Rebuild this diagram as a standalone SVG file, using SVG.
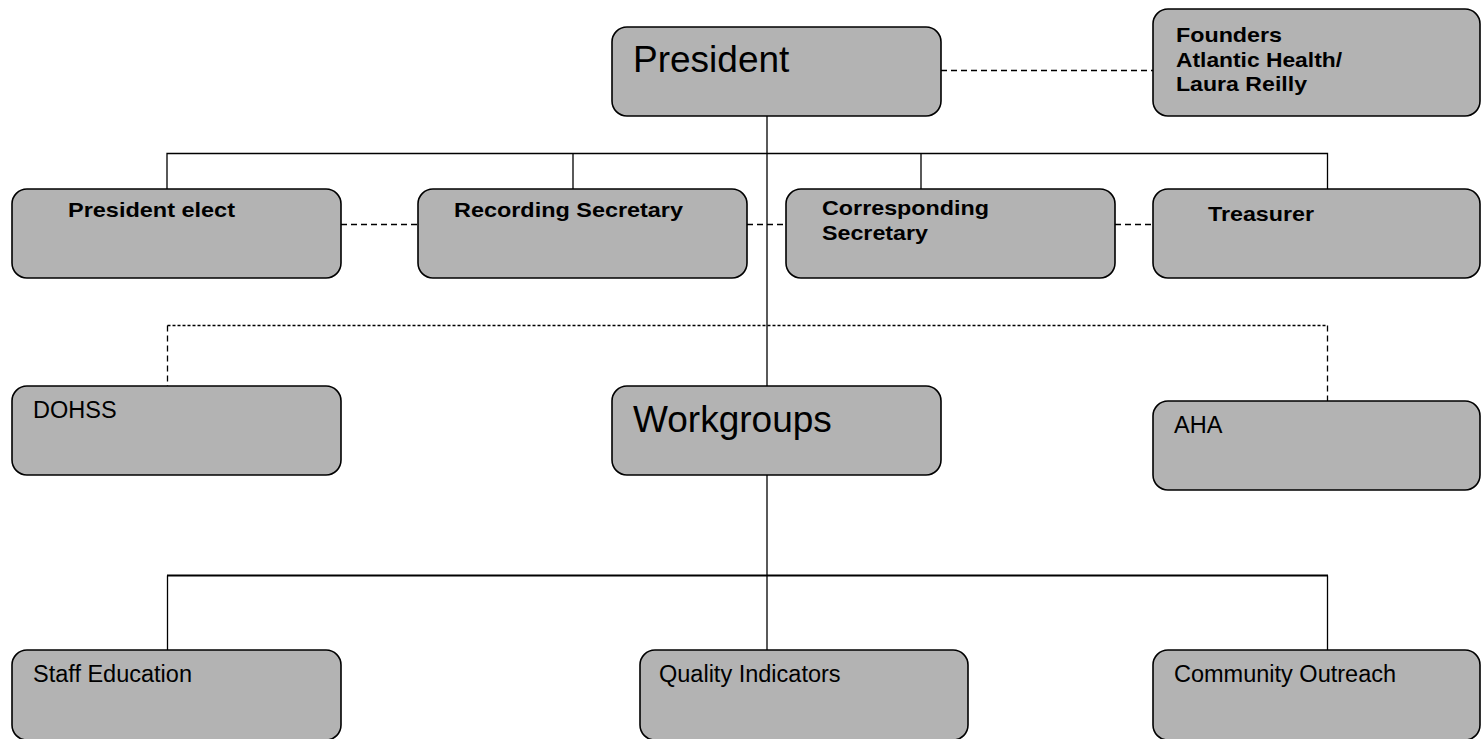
<svg xmlns="http://www.w3.org/2000/svg" width="1481" height="739" viewBox="0 0 1481 739">
<style>
.box{fill:#b3b3b3;stroke:#000;stroke-width:1.6}
.ln{fill:none;stroke:#000;stroke-width:1.3}
.dsh{fill:none;stroke:#000;stroke-width:1.3;stroke-dasharray:6 4}
.dot{fill:none;stroke:#000;stroke-width:1.6;stroke-dasharray:3 2}
.t{font-family:"Liberation Sans",Arial,sans-serif;fill:#000}
.big{font-size:37px}
.reg{font-size:23.5px}
.b{font-size:21px;font-weight:bold}
</style>
<rect width="1481" height="739" fill="#fff"/>
<g id="connectors">
<line class="dsh" x1="941" y1="70.5" x2="1153" y2="70.5"/>
<line class="ln" x1="767" y1="116" x2="767" y2="386"/>
<polyline class="ln" points="167,189 167,153.5 1327.5,153.5 1327.5,189"/>
<line class="ln" x1="573" y1="153.5" x2="573" y2="189"/>
<line class="ln" x1="921" y1="153.5" x2="921" y2="189"/>
<line class="dsh" x1="341" y1="224.5" x2="418" y2="224.5"/>
<line class="dsh" x1="747" y1="224.5" x2="786" y2="224.5"/>
<line class="dsh" x1="1115" y1="224.5" x2="1153" y2="224.5"/>
<line class="dot" x1="167.5" y1="325.5" x2="1327.5" y2="325.5"/>
<line class="dsh" x1="167.5" y1="325.5" x2="167.5" y2="386"/>
<line class="dsh" x1="1327.5" y1="325.5" x2="1327.5" y2="401"/>
<line class="ln" x1="767" y1="475" x2="767" y2="650"/>
<line class="ln" style="stroke-width:2.2" x1="167" y1="575.5" x2="1328" y2="575.5"/>
<line class="ln" x1="167.5" y1="575.5" x2="167.5" y2="650"/>
<line class="ln" x1="1327.5" y1="575.5" x2="1327.5" y2="650"/>
</g>
<g id="president"><rect class="box" x="612" y="27" width="329" height="89" rx="15"/><text class="t big" x="633" y="72">President</text></g>
<g id="founders"><rect class="box" x="1153" y="9" width="327" height="107" rx="15"/><text class="t b" x="1176" y="42" textLength="106" lengthAdjust="spacingAndGlyphs">Founders</text><text class="t b" x="1176" y="66.5" textLength="166" lengthAdjust="spacingAndGlyphs">Atlantic Health/</text><text class="t b" x="1176" y="91" textLength="131" lengthAdjust="spacingAndGlyphs">Laura Reilly</text></g>
<g id="president-elect"><rect class="box" x="12" y="189" width="329" height="89" rx="15"/><text class="t b" x="68" y="216.5" textLength="167" lengthAdjust="spacingAndGlyphs">President elect</text></g>
<g id="recording-secretary"><rect class="box" x="418" y="189" width="329" height="89" rx="15"/><text class="t b" x="454" y="216.5" textLength="229" lengthAdjust="spacingAndGlyphs">Recording Secretary</text></g>
<g id="corresponding-secretary"><rect class="box" x="786" y="189" width="329" height="89" rx="15"/><text class="t b" x="822" y="215" textLength="167" lengthAdjust="spacingAndGlyphs">Corresponding</text><text class="t b" x="822" y="240" textLength="106" lengthAdjust="spacingAndGlyphs">Secretary</text></g>
<g id="treasurer"><rect class="box" x="1153" y="189" width="327" height="89" rx="15"/><text class="t b" x="1208" y="220.5" textLength="106" lengthAdjust="spacingAndGlyphs">Treasurer</text></g>
<g id="dohss"><rect class="box" x="12" y="386" width="329" height="89" rx="15"/><text class="t reg" x="33" y="418">DOHSS</text></g>
<g id="workgroups"><rect class="box" x="612" y="386" width="329" height="89" rx="15"/><text class="t big" x="633" y="431.5">Workgroups</text></g>
<g id="aha"><rect class="box" x="1153" y="401" width="327" height="89" rx="15"/><text class="t reg" x="1174" y="433">AHA</text></g>
<g id="staff-education"><rect class="box" x="12" y="650" width="329" height="90" rx="15"/><text class="t reg" x="33" y="682">Staff Education</text></g>
<g id="quality-indicators"><rect class="box" x="640" y="650" width="328" height="90" rx="15"/><text class="t reg" x="659" y="682">Quality Indicators</text></g>
<g id="community-outreach"><rect class="box" x="1153" y="650" width="327" height="90" rx="15"/><text class="t reg" x="1174" y="682">Community Outreach</text></g>
</svg>
